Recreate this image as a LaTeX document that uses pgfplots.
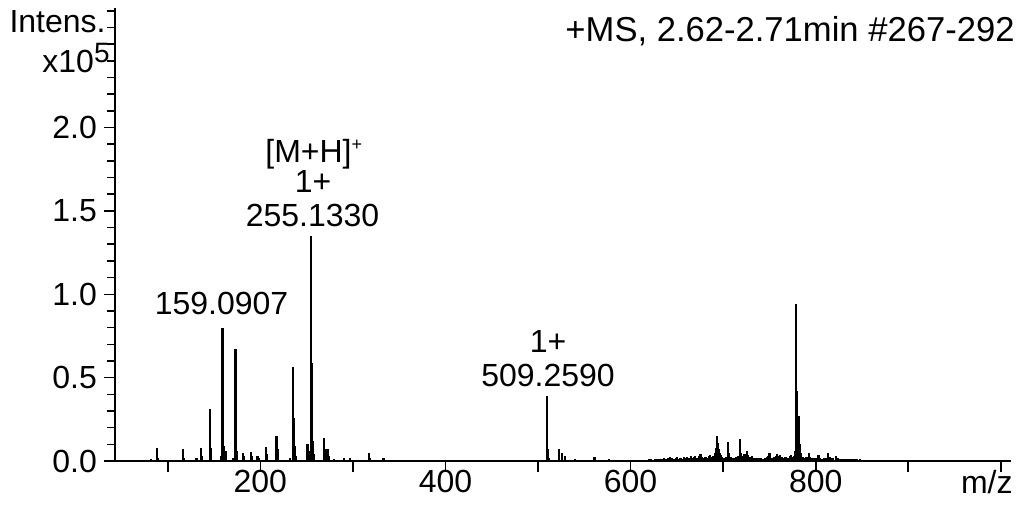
\documentclass[border=0pt]{standalone}
\usepackage{pgfplots}
\pgfplotsset{compat=1.18}
\usepackage{fontspec}
\setmainfont{Liberation Sans}
\pgfplotstableread{
mz I
81.5 0.012
88.5 0.075
89.5 0.02
116.5 0.07
117.5 0.02
131 0.02
135.5 0.08
136.5 0.03
146 0.31
147 0.08
157.5 0.03
159.1 0.80
160.1 0.43
161.1 0.09
162.5 0.06
171 0.02
173.1 0.67
174.1 0.30
175 0.06
181.5 0.05
182.5 0.03
189.5 0.055
190.5 0.03
197 0.03
198 0.015
206 0.085
207 0.04
217.5 0.15
218.5 0.07
219.5 0.02
232 0.015
235.1 0.565
236.1 0.26
237.1 0.09
238 0.03
251 0.10
252 0.06
255.1 1.35
256.1 0.59
257.1 0.12
258 0.04
269 0.14
270 0.07
271.5 0.07
273 0.07
274 0.03
280 0.01
290 0.02
297 0.02
317 0.05
318 0.02
333 0.02
360 0.008
509.3 0.39
510.3 0.07
511.3 0.02
522.6 0.07
525.5 0.05
529 0.03
540 0.01
561 0.025
577 0.01
600 0.006
604 0.008
608 0.006
612 0.007
616 0.008
620 0.010
622 0.012
624 0.008
626 0.011
628 0.009
630 0.013
632 0.010
634 0.012
636 0.016
638 0.011
640 0.018
642 0.014
643 0.026
645 0.015
647 0.012
649 0.020
650 0.022
652 0.014
654 0.017
656 0.013
658 0.022
660 0.020
661 0.024
663 0.016
665 0.032
667 0.018
669 0.025
670 0.030
672 0.020
674 0.028
675.5 0.042
677 0.022
679 0.018
681 0.024
683 0.020
685 0.028
686 0.034
688 0.025
689.5 0.030
691 0.045
692 0.08
693 0.15
694 0.11
695 0.07
696 0.05
697.5 0.035
699 0.025
701 0.020
703 0.024
705 0.115
706 0.045
708 0.022
710 0.018
712 0.020
714 0.024
716 0.030
718.6 0.13
719.6 0.05
721 0.030
723 0.040
724 0.028
726 0.060
727 0.035
729 0.022
731 0.030
733 0.020
735 0.016
737 0.018
739 0.015
741 0.018
743 0.014
745 0.020
747 0.022
749 0.030
750 0.050
751 0.030
753 0.020
755 0.025
757 0.032
758 0.040
760 0.030
761 0.035
763 0.022
765 0.020
767 0.022
768 0.026
770 0.020
772 0.028
773 0.036
775 0.025
776.5 0.030
778 0.06
779 0.94
780 0.42
781.5 0.27
783 0.10
784 0.05
786 0.025
788 0.020
790 0.022
792.5 0.050
794 0.025
796 0.018
798 0.016
800 0.015
802 0.020
803 0.035
805 0.018
807 0.014
809 0.016
811 0.020
813.6 0.045
815 0.025
817 0.018
819 0.016
822 0.030
824 0.016
826 0.012
828 0.010
830 0.012
832 0.009
834 0.011
836 0.010
838 0.012
840 0.010
842 0.011
844 0.009
846 0.008
848 0.010
850 0.008
852 0.006
855 0.004
858 0.008
861 0.005
864 0.004
867 0.008
870 0.004
874 0.006
878 0.007
882 0.004
}\spectrum
\begin{document}
\begin{tikzpicture}
\begin{axis}[
  scale only axis, width=448pt, height=226.7pt,
  xmin=43, xmax=1011, ymin=0, ymax=2.72,
  axis lines=left, axis line style={-, line width=1pt, black},
  x axis line style={line width=1.3pt},
  xtick={100,200,...,1000}, xticklabels={,200,,400,,600,,800,,},
  ytick={0,0.5,1,1.5,2}, minor ytick={0.1,0.2,0.3,0.4,0.6,0.7,0.8,0.9,1.1,1.2,1.3,1.4,1.6,1.7,1.8,1.9,2.1,2.2,2.3,2.4,2.5,2.6,2.7},
  yticklabel style={/pgf/number format/.cd, fixed, fixed zerofill, precision=1},
  xticklabel style={yshift=4.5pt},
  /pgf/number format/assume math mode=true,
  tick align=outside, major tick length=5.5pt, minor tick length=4pt,
  tick style={black, line width=0.8pt},
  ticklabel style={font=\fontsize{16}{16}\selectfont},
]
\addplot[ycomb, black, line width=1.1pt, mark=none] table[x=mz, y=I] {\spectrum};
\end{axis}
\begin{scope}[every node/.style={inner sep=0pt, font=\fontsize{16}{16}\selectfont}]
\node[anchor=base east] at (-4.5pt,214pt) {Intens.};
\node[anchor=base east] at (-2.5pt,194pt) {x10\raisebox{5pt}{\fontsize{14}{14}\selectfont 5}};
\node[anchor=base east, font=\fontsize{17.3}{17.3}\selectfont] at (450pt,209.6pt) {+MS, 2.62-2.71min \#267-292};
\node[anchor=base east] at (449pt,-16.5pt) {m/z};
\node[anchor=base] at (53.25pt,73pt) {159.0907};
\node[anchor=base] at (98.75pt,117.2pt) {255.1330};
\node[anchor=base] at (99pt,134.2pt) {1+};
\node[anchor=base west] at (75pt,149pt) {[M+H]\raisebox{6pt}{\fontsize{9}{9}\selectfont +}};
\node[anchor=base] at (216.5pt,54pt) {1+};
\node[anchor=base] at (216.5pt,37pt) {509.2590};
\end{scope}
\pgfresetboundingbox
\path (-57.5pt,-26pt) rectangle (454.5pt,230.5pt);
\end{tikzpicture}
\end{document}
